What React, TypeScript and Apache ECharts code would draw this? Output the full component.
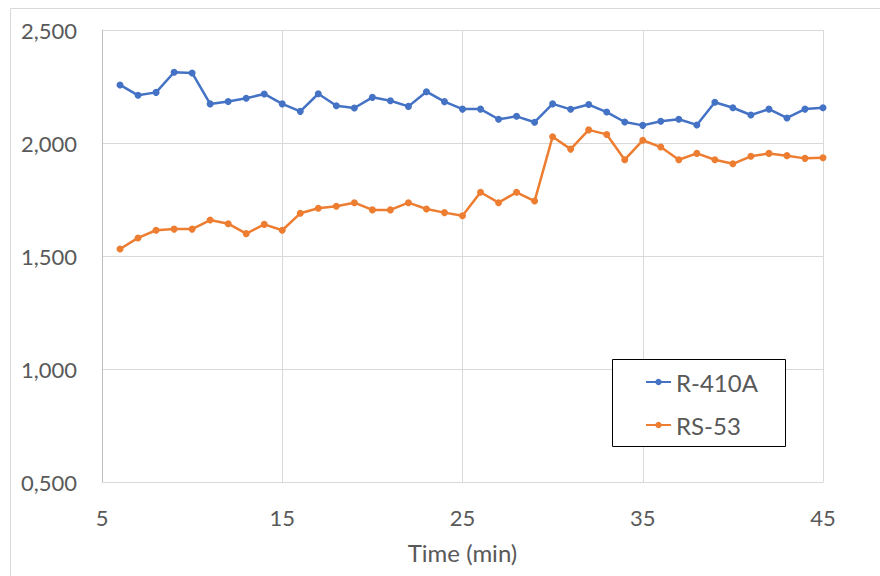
import React, { useEffect, useRef } from "react";
import * as echarts from "echarts";

const minutes = [6, 7, 8, 9, 10, 11, 12, 13, 14, 15, 16, 17, 18, 19, 20, 21, 22, 23, 24, 25, 26, 27, 28, 29, 30, 31, 32, 33, 34, 35, 36, 37, 38, 39, 40, 41, 42, 43, 44, 45];

const r410a = [2257, 2211, 2224, 2313, 2310, 2173, 2184, 2198, 2217, 2173, 2140, 2218, 2165, 2155, 2202, 2187, 2162, 2227, 2183, 2150, 2150, 2105, 2118, 2092, 2173, 2149, 2170, 2137, 2093, 2078, 2096, 2105, 2080, 2180, 2156, 2124, 2150, 2111, 2150, 2156];

const rs53 = [1531, 1580, 1614, 1619, 1619, 1659, 1643, 1599, 1640, 1614, 1689, 1711, 1720, 1736, 1704, 1704, 1736, 1708, 1692, 1678, 1782, 1736, 1782, 1743, 2028, 1973, 2058, 2038, 1926, 2012, 1982, 1926, 1954, 1926, 1908, 1941, 1954, 1944, 1932, 1935];

const seriesNames = ["R-410A", "RS-53"];
const xAxisTitle = "Time (min)";

const FONT = "Lato, 'Open Sans', sans-serif";
const TXT = "#595959";

function fmtY(v: number): string {
  const th = Math.floor(v / 1000);
  const rest = String(Math.round(v % 1000)).padStart(3, "0");
  return th + "," + rest;
}

export default function App() {
  const ref = useRef<HTMLDivElement>(null);
  useEffect(() => {
    if (!ref.current) return;
    const chart = echarts.init(ref.current, undefined, { renderer: "svg" });
    chart.setOption({
      animation: false,
      backgroundColor: "#ffffff",
      grid: { left: 102, right: 57, top: 30, bottom: 94 },
      graphic: [
        {
          type: "rect",
          z: 0,
          silent: true,
          shape: { x: 10.5, y: 8.5, width: 900, height: 600 },
          style: { fill: "none", stroke: "#d9d9d9", lineWidth: 1 },
        },
        {
          type: "rect",
          z: 3,
          silent: true,
          shape: { x: 612.5, y: 359.5, width: 173, height: 87 },
          style: { fill: "#ffffff", stroke: "#000000", lineWidth: 1 },
        },
      ],
      legend: {
        orient: "vertical",
        left: 645,
        top: 370,
        padding: 0,
        itemWidth: 25,
        itemHeight: 8,
        itemGap: 19,
        z: 5,
        textStyle: { fontFamily: FONT, fontSize: 24, lineHeight: 23, color: TXT },
        data: seriesNames,
      },
      xAxis: {
        type: "value",
        min: 5,
        max: 45,
        interval: 10,
        name: xAxisTitle,
        nameLocation: "middle",
        nameGap: 58,
        nameTextStyle: { fontFamily: FONT, fontSize: 24, color: TXT },
        axisLine: { show: true, lineStyle: { color: "#d9d9d9", width: 1 } },
        axisTick: { show: false },
        axisLabel: { fontFamily: FONT, fontSize: 22, color: TXT, margin: 24 },
        splitLine: { show: true, lineStyle: { color: "#d9d9d9", width: 1 } },
      },
      yAxis: {
        type: "value",
        min: 500,
        max: 2500,
        interval: 500,
        axisLine: { show: true, lineStyle: { color: "#bfbfbf", width: 1 } },
        axisTick: { show: false },
        axisLabel: {
          fontFamily: FONT,
          fontSize: 22,
          color: TXT,
          margin: 25,
          formatter: (v: number) => fmtY(v),
        },
        splitLine: { show: true, lineStyle: { color: "#d9d9d9", width: 1 } },
      },
      series: [
        {
          name: seriesNames[0],
          type: "line",
          data: minutes.map((m, i) => [m, r410a[i]]),
          symbol: "circle",
          symbolSize: 7,
          lineStyle: { color: "#4472C4", width: 2.5 },
          itemStyle: { color: "#4472C4" },
        },
        {
          name: seriesNames[1],
          type: "line",
          data: minutes.map((m, i) => [m, rs53[i]]),
          symbol: "circle",
          symbolSize: 7,
          lineStyle: { color: "#ED7D31", width: 2.5 },
          itemStyle: { color: "#ED7D31" },
        },
      ],
    });
    return () => chart.dispose();
  }, []);
  return (
    <div
      ref={ref}
      style={{ position: "fixed", left: 0, top: 0, width: 880, height: 576 }}
    />
  );
}
